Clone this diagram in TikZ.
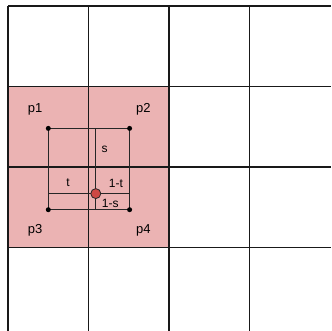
\documentclass[tikz,border=0pt]{standalone}
\usepackage{fontspec}
\setmainfont{Liberation Sans}
\usepackage{tikz}
\usetikzlibrary{positioning,calc}

\definecolor{cellpink}{RGB}{235,179,179}
\definecolor{dotred}{RGB}{205,72,68}

\begin{document}
\begin{tikzpicture}[
  x=80.5pt, y=80.5pt,
  gridline/.style={line width=1.3pt, color=black!90},
  frame/.style={line width=0.9pt, color=black!85},
  corner/.style={circle, fill=black, inner sep=0pt, minimum size=5pt},
  sample/.style={circle, draw=black!85, fill=dotred, line width=0.8pt,
                 inner sep=0pt, minimum size=10pt},
  lbl/.style={font=\fontsize{13}{15}\selectfont, inner sep=1pt},
  small/.style={font=\fontsize{12}{14}\selectfont, inner sep=0.5pt}
]
  \useasboundingbox (-0.1,0.075) rectangle (4.012,-4.037);

  % shaded 2x2 neighbourhood
  \fill[cellpink] (0,-1) rectangle (2,-3);

  % grid
  \foreach \i in {0,...,3} {
    \draw[gridline] (0,-\i) -- (4.012,-\i);
    \draw[gridline] (\i,0) -- (\i,-4.037);
  }

  % sample positions
  \coordinate (c1) at (0.5,-1.52);
  \coordinate (c2) at (1.51,-1.52);
  \coordinate (c3) at (0.5,-2.53);
  \coordinate (c4) at (1.51,-2.53);
  \coordinate (q) at (1.09,-2.33);

  \draw[frame] (c1) rectangle (c4);
  \draw[frame] (c1 -| q) -- (c3 -| q);
  \draw[frame] (c1 |- q) -- (c2 |- q);

  \node[corner] (d1) at (c1) {};
  \node[corner] (d2) at (c2) {};
  \node[corner] (d3) at (c3) {};
  \node[corner] (d4) at (c4) {};
  \node[sample] (pt) at (q) {};

  \node[lbl] (p1) at (0.335,-1.28) {p1};
  \node[lbl] (p2) at (1.68,-1.28) {p2};
  \node[lbl] (p3) at (0.335,-2.79) {p3};
  \node[lbl] (p4) at (1.68,-2.79) {p4};

  \node[small] (s) at (1.2,-1.78) {s};
  \node[small] (t) at (0.745,-2.2) {t};
  \node[small] (omt) at (1.34,-2.2) {1-t};
  \node[small] (oms) at (1.27,-2.45) {1-s};
\end{tikzpicture}
\end{document}
